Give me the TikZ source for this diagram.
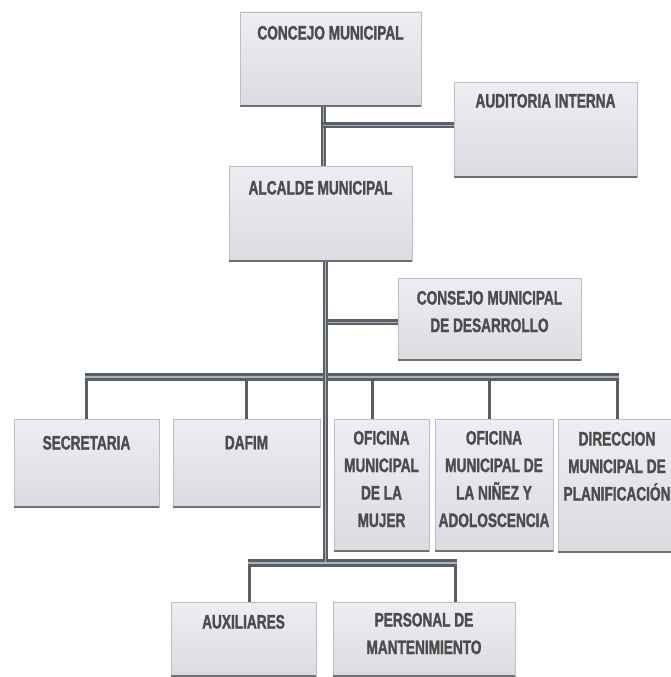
\documentclass[tikz,border=0pt]{standalone}
\usepackage{fontspec}
\newfontfamily\orgfont{Liberation Sans}[UprightFont={* Bold}, FakeStretch=0.70, FakeBold=1.4]
\pgfdeclarelayer{background}
\pgfsetlayers{background,main}
\definecolor{linedark}{HTML}{5A5F66}
\definecolor{linelight}{HTML}{A9B3B8}
\definecolor{boxtop}{HTML}{EEEDF1}
\definecolor{boxbot}{HTML}{DCDBE0}
\definecolor{boxedge}{HTML}{BDBDC3}
\definecolor{shadowc}{HTML}{6E7073}
\definecolor{txt}{HTML}{4C4C4E}
\tikzset{
  orgbox/.style={rectangle, inner sep=0pt, top color=boxtop, bottom color=boxbot,
    draw=boxedge, line width=0.6pt},
  lab/.style={anchor=north, inner sep=0pt, align=center, text=txt,
    font=\orgfont\fontsize{19.5}{27.5}\selectfont},
  bar/.style={draw=linedark, line width=3pt, double=linelight, double distance=1.3pt},
  trunk/.style={draw=linedark, line width=2pt, double=linelight, double distance=1pt},
  dropline/.style={draw=linedark, line width=3pt},
  shadowline/.style={draw=shadowc, line width=2pt}
}
\begin{document}
\begin{tikzpicture}[x=1pt,y=-1pt]
\clip (0,0) rectangle (671,677);

\node[orgbox, minimum width=181pt, minimum height=94pt,
  label={[lab, yshift=-14pt]north:{CONCEJO MUNICIPAL}}] (concejo) at (330.5,59) {};
\node[orgbox, minimum width=183pt, minimum height=95pt,
  label={[lab, yshift=-12pt]north:{AUDITORIA INTERNA}}] (auditoria) at (545.5,129.5) {};
\node[orgbox, minimum width=183pt, minimum height=95pt,
  label={[lab, yshift=-15pt]north:{ALCALDE MUNICIPAL}}] (alcalde) at (320.5,213.5) {};
\node[orgbox, minimum width=183pt, minimum height=82pt,
  label={[lab, yshift=-13pt]north:{CONSEJO MUNICIPAL\\DE DESARROLLO}}] (desarrollo) at (489.5,319) {};
\node[orgbox, minimum width=145pt, minimum height=88pt,
  label={[lab, yshift=-17pt]north:{SECRETARIA}}] (secretaria) at (86.5,463) {};
\node[orgbox, minimum width=147pt, minimum height=88pt,
  label={[lab, yshift=-17pt]north:{DAFIM}}] (dafim) at (246.5,463) {};
\node[orgbox, minimum width=95pt, minimum height=132pt,
  label={[lab, yshift=-12pt]north:{OFICINA\\MUNICIPAL\\DE LA\\MUJER}}] (mujer) at (381.5,485) {};
\node[orgbox, minimum width=118pt, minimum height=132pt,
  label={[lab, yshift=-12pt]north:{OFICINA\\MUNICIPAL DE\\LA NIÑEZ Y\\ADOLOSCENCIA}}] (ninez) at (494,485) {};
\node[orgbox, minimum width=118pt, minimum height=133pt,
  label={[lab, yshift=-13pt]north:{DIRECCION\\MUNICIPAL DE\\PLANIFICACIÓN}}] (direccion) at (617,485.5) {};
\node[orgbox, minimum width=145pt, minimum height=74pt,
  label={[lab, yshift=-13pt]north:{AUXILIARES}}] (auxiliares) at (243.5,639) {};
\node[orgbox, minimum width=182pt, minimum height=74pt,
  label={[lab, yshift=-11pt]north:{PERSONAL DE\\MANTENIMIENTO}}] (personal) at (424,639) {};

\foreach \n in {concejo,auditoria,alcalde,desarrollo,secretaria,dafim,mujer,ninez,direccion,auxiliares,personal}
  \draw[shadowline] (\n.south west) -- (\n.south east);

\coordinate (tA) at (323,0);
\coordinate (tB) at (325,0);
\coordinate (b1) at (0,125);
\coordinate (b2) at (0,322);
\coordinate (barA) at (0,377);
\coordinate (barB) at (0,563);
\coordinate (dMujer) at ([xshift=-9pt]mujer.north);
\coordinate (dNinez) at ([xshift=-5pt]ninez.north);
\coordinate (dAux) at ([xshift=5.5pt]auxiliares.north);
\coordinate (dPers) at ([xshift=31pt]personal.north);

\begin{pgfonlayer}{background}
  \fill[white] (0,0) rectangle (671,677);
  % upper levels
  \draw[trunk] (concejo.south -| tA) -- (alcalde.north -| tA);
  \draw[bar, double distance=0.8pt, line width=2.2pt] (tA |- b1) -- (auditoria.west |- b1);
  % branch to consejo de desarrollo
  \draw[bar, double distance=0.8pt, line width=2.2pt] (tB |- b2) -- (desarrollo.west |- b2);
  % drops from upper bar
  \draw[dropline] (secretaria.north |- barA) -- (secretaria.north);
  \draw[dropline] (dafim.north |- barA) -- (dafim.north);
  \draw[dropline] (dMujer |- barA) -- (dMujer);
  \draw[dropline] (dNinez |- barA) -- (dNinez);
  \draw[dropline] (direccion.north |- barA) -- (direccion.north);
  \draw[bar] ([xshift=-1.5pt]secretaria.north |- barA) -- ([xshift=1.5pt]direccion.north |- barA);
  % drops from lower bar
  \draw[dropline] (dAux |- barB) -- (dAux);
  \draw[dropline] (dPers |- barB) -- (dPers);
  \draw[bar] ([xshift=-1.5pt]dAux |- barB) -- ([xshift=1.5pt]dPers |- barB);
  % main trunk
  \draw[trunk] (alcalde.south -| tB) -- ([yshift=1.5pt]tB |- barB);
\end{pgfonlayer}
\end{tikzpicture}
\end{document}
